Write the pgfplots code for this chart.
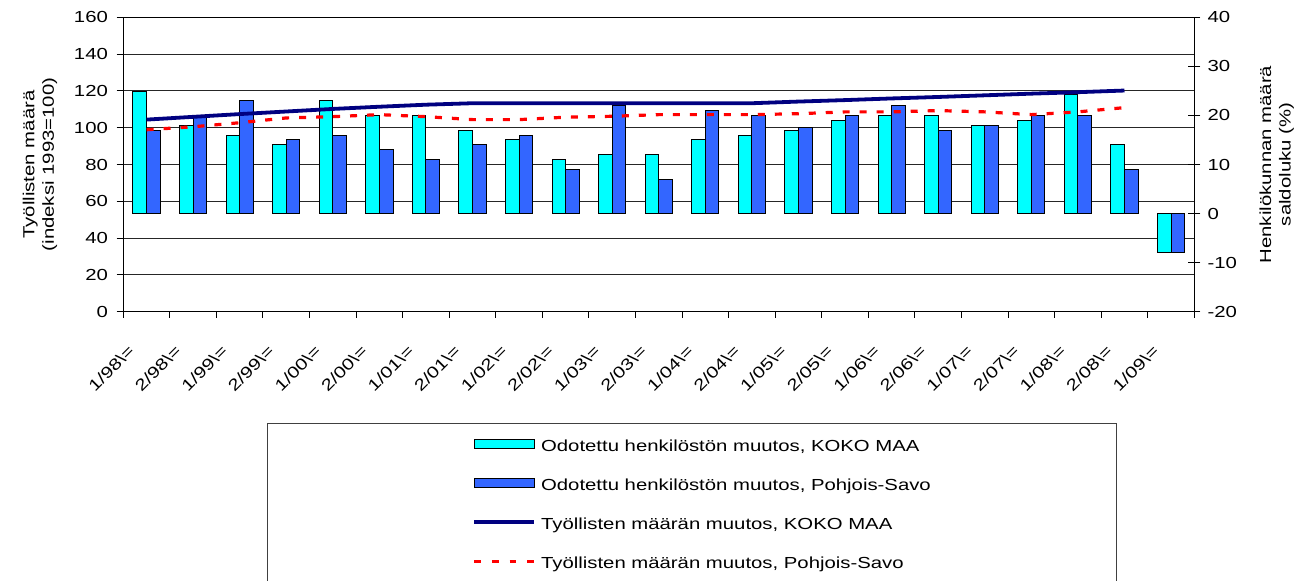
\documentclass[border=0pt]{standalone}
\usepackage{pgfplots}
\usepackage{pgfplotstable}
\pgfplotsset{compat=1.18}
\usepackage{fontspec}
\setmainfont{Liberation Sans}[FakeStretch=1.27]
\definecolor{kcyan}{RGB}{0,255,255}
\definecolor{kblue}{RGB}{51,102,255}
\definecolor{knavy}{RGB}{0,0,128}
\definecolor{kred}{RGB}{255,0,0}

\pgfplotsset{
  linelegend/.style={legend image code/.code={\path[draw=none,fill=none] (0pt,-3.5pt) rectangle (67pt,12pt); \draw[##1] (0pt,2pt) -- (60pt,2pt);}},
  dashlegend/.style={legend image code/.code={\path[draw=none,fill=none] (0pt,-3.5pt) rectangle (67pt,12pt); \draw[##1, dash pattern=on 6.7pt off 11pt] (0pt,2pt) -- (60pt,2pt);}},
  cyanlegend/.style={legend image code/.code={\path[draw=none,fill=none] (0pt,-3.5pt) rectangle (67pt,12pt); \draw[fill=kcyan,draw=black,line width=0.8pt] (0pt,-2.5pt) rectangle (60pt,6.8pt);}},
  bluelegend/.style={legend image code/.code={\path[draw=none,fill=none] (0pt,-3.5pt) rectangle (67pt,12pt); \draw[fill=kblue,draw=black,line width=0.8pt] (0pt,-2.5pt) rectangle (60pt,6.8pt);}},
}

\pgfplotstableread{
i cyan blue navy red
0 24.8 17 104.4 98.9
1 18 20 105.9 100.5
2 16 23 107.4 102.7
3 14 15 108.8 105.3
4 23 16 110.2 106.0
5 20 13 111.4 107.1
6 20 11 112.5 106.0
7 17 14 113.3 104.4
8 15 16 113.3 104.4
9 11 9 113.3 105.7
10 12 22 113.3 106.2
11 12 7 113.3 107.1
12 15 21 113.3 107.1
13 16 20 113.3 107.1
14 17 17.5 114.2 107.6
15 19 20 115.0 108.6
16 20 22 115.9 108.6
17 20 17 116.7 109.3
18 18 18 117.6 108.6
19 19 20 118.5 107.1
20 24.2 20 119.3 108.6
21 14 9 120.2 110.9
22 -8 -8 nan nan
}\data

\begin{document}
\begin{tikzpicture}[font=\fontsize{16}{19.5}\selectfont]
\pgfplotsset{
  base/.style={scale only axis, width=1071pt, height=294.4pt,
    at={(123.3pt,269.3pt)}, anchor=south west, xmin=-0.5, xmax=22.5},
}
% axis 1: left scale, grid, frame, x labels
\begin{axis}[base, ymin=0, ymax=160, ytick={0,20,...,160},
  ymajorgrids, grid style={black!85, line width=0.8pt},
  axis line style={black, line width=1pt},
  ytick pos=left, xtick pos=bottom, tick align=outside,
  major tick length=6.7pt, minor tick length=6pt,
  tick style={black, line width=1pt},
  xtick={0,...,22},
  xticklabels={1/98\textbackslash=,2/98\textbackslash=,1/99\textbackslash=,2/99\textbackslash=,1/00\textbackslash=,2/00\textbackslash=,1/01\textbackslash=,2/01\textbackslash=,1/02\textbackslash=,2/02\textbackslash=,1/03\textbackslash=,2/03\textbackslash=,1/04\textbackslash=,2/04\textbackslash=,1/05\textbackslash=,2/05\textbackslash=,1/06\textbackslash=,2/06\textbackslash=,1/07\textbackslash=,2/07\textbackslash=,1/08\textbackslash=,2/08\textbackslash=,1/09\textbackslash=},
  major x tick style={draw=none},
  minor xtick={-0.5,0.5,...,22.5},
  /pgf/number format/assume math mode=true,
  xticklabel style={xshift=-19.4pt, yshift=-25.4pt, rotate=45, anchor=north east, inner sep=0pt},
  yticklabel style={inner sep=0pt, xshift=-8.5pt},
  ylabel={Työllisten määrä\\(indeksi 1993=100)},
  ylabel style={align=center, at={(axis description cs:-0.0778,0.5)}, anchor=center},
]
\end{axis}
% axis 2: right scale, bars
\begin{axis}[base, ymin=-20, ymax=40, ytick={-20,-10,...,40},
  axis y line*=right, axis x line=none,
  axis line style={black, line width=1pt},
  tick align=center, major tick length=12pt,
  tick style={black, line width=1pt},
  /pgf/number format/assume math mode=true,
  yticklabel style={inner sep=0pt, xshift=7pt},
  ylabel={Henkilökunnan määrä\\saldoluku (\%)},
  ylabel style={align=center, at={(axis description cs:1.0769,0.5)}, anchor=center},
  ybar=0pt, bar width=13.6pt,
]
\addplot[fill=kcyan, draw=black, line width=1pt, bar shift=-6.8pt] table[x=i,y=cyan]{\data};
\addplot[fill=kblue, draw=black, line width=1pt, bar shift=6.8pt] table[x=i,y=blue]{\data};
\end{axis}
% axis 3: left scale, lines and legend
\begin{axis}[base, ymin=0, ymax=160, hide axis,
  legend cell align=left,
  legend style={at={(axis description cs:0.3256,-0.415)}, anchor=north west,
    draw=none, fill=none, inner sep=0pt, row sep=20.5pt, nodes={inner sep=0pt}},
]
\addlegendimage{cyanlegend}
\addlegendentry{Odotettu henkilöstön muutos, KOKO MAA}
\addlegendimage{bluelegend}
\addlegendentry{Odotettu henkilöstön muutos, Pohjois-Savo}
\addplot[knavy, line width=3.8pt, line join=round, linelegend]
  table[x=i,y=navy]{\data};
\addlegendentry{Työllisten määrän muutos, KOKO MAA}
\addplot[kred, line width=3.2pt, dash pattern=on 7pt off 10pt, dashlegend]
  table[x=i,y=red]{\data};
\addlegendentry{Työllisten määrän muutos, Pohjois-Savo}
\end{axis}
\draw[black!75, line width=1pt] (267.3pt,157.7pt) rectangle (1116.7pt,-10pt);
\pgfresetboundingbox
\path[use as bounding box] (0pt,0pt) rectangle (1312pt,581pt);
\end{tikzpicture}
\end{document}
